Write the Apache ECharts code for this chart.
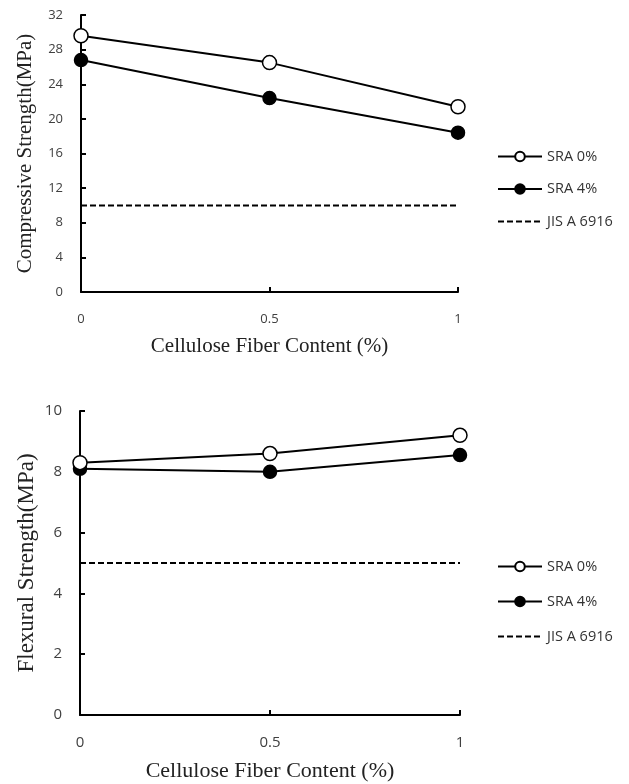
<!DOCTYPE html>
<html>
<head>
<meta charset="utf-8">
<script src="https://cdn.jsdelivr.net/npm/echarts@6/dist/echarts.min.js"></script>
<style>html,body{margin:0;padding:0;background:#fff}#c{width:629px;height:784px}</style>
</head>
<body>
<div id="c"></div>
<script>
const fiberContent = [0, 0.5, 1];
const xTicks = ['0', '0.5', '1'];
const compSRA0 = [29.6, 26.5, 21.4];
const compSRA4 = [26.8, 22.4, 18.4];
const compJIS = [10, 10, 10];
const flexSRA0 = [8.3, 8.6, 9.2];
const flexSRA4 = [8.1, 8.0, 8.55];
const flexJIS = [5, 5, 5];
const seriesNames = ['SRA 0%', 'SRA 4%', 'JIS A 6916'];

const pair = arr => fiberContent.map((x, i) => [x, arr[i]]);
const serif = 'Liberation Serif';
const sans = 'Open Sans';

function xAxis(grid, labelSize, margin, gap, nameSize) {
  return {
    type: 'value', gridIndex: grid, min: 0, max: 1, interval: 0.5,
    axisLine: {lineStyle: {color: '#000', width: 2}},
    axisTick: {inside: true, length: 5, lineStyle: {color: '#000', width: 2}},
    axisLabel: {margin: margin, fontFamily: sans, fontSize: labelSize, color: '#404040',
      formatter: v => xTicks[Math.round(v * 2)]},
    splitLine: {show: false},
    name: 'Cellulose Fiber Content (%)', nameLocation: 'middle', nameGap: gap,
    nameMoveOverlap: false,
    nameTextStyle: {fontFamily: serif, fontSize: nameSize, color: '#222'}
  };
}
function yAxis(grid, max, interval, name, labelSize, gap, nameSize) {
  return {
    type: 'value', gridIndex: grid, min: 0, max: max, interval: interval,
    axisLine: {show: true, lineStyle: {color: '#000', width: 2}},
    axisTick: {show: true, inside: true, length: 5, lineStyle: {color: '#000', width: 2}},
    axisLabel: {margin: 18, fontFamily: sans, fontSize: labelSize, color: '#404040'},
    splitLine: {show: false},
    name: name, nameLocation: 'middle', nameGap: gap,
    nameMoveOverlap: false,
    nameTextStyle: {fontFamily: serif, fontSize: nameSize, color: '#222'}
  };
}
function lineSeries(name, data, axis, filled, size) {
  return {
    name: name, type: 'line', xAxisIndex: axis, yAxisIndex: axis, data: pair(data),
    symbol: 'circle', symbolSize: size,
    lineStyle: {color: '#000', width: 2},
    itemStyle: {color: filled ? '#000' : '#fff', borderColor: '#000', borderWidth: 1.5},
    z: filled ? 3 : 4
  };
}
function jisSeries(data, axis) {
  return {
    name: seriesNames[2], type: 'line', xAxisIndex: axis, yAxisIndex: axis, data: pair(data),
    symbol: 'none', lineStyle: {color: '#000', width: 2, type: [6, 3]},
    itemStyle: {color: '#000'}
  };
}
function legend(top, gap) {
  return {
    orient: 'vertical', left: 492, top: top, itemWidth: 44, itemHeight: 12, itemGap: gap,
    data: [
      {name: seriesNames[0]},
      {name: seriesNames[1]},
      {name: seriesNames[2], itemStyle: {opacity: 0}}
    ],
    selectedMode: false,
    textStyle: {fontFamily: sans, fontSize: 14.5, color: '#333'}
  };
}

const chart = echarts.init(document.getElementById('c'));
chart.setOption({
  animation: false,
  backgroundColor: '#fff',
  grid: [
    {left: 81, top: 15, width: 377, height: 277},
    {left: 80, top: 411, width: 380, height: 304}
  ],
  xAxis: [xAxis(0, 13, 21, 44, 21), xAxis(1, 15, 20, 45, 22)],
  yAxis: [
    yAxis(0, 32, 4, 'Compressive Strength(MPa)', 13, 45, 21),
    yAxis(1, 10, 2, 'Flexural Strength(MPa)', 15, 42, 23)
  ],
  legend: [legend(144, 17.5), legend(554, 20)],
  series: [
    lineSeries(seriesNames[0], compSRA0, 0, false, 14),
    lineSeries(seriesNames[1], compSRA4, 0, true, 13),
    jisSeries(compJIS, 0),
    lineSeries(seriesNames[0], flexSRA0, 1, false, 14),
    lineSeries(seriesNames[1], flexSRA4, 1, true, 13),
    jisSeries(flexJIS, 1)
  ]
});
</script>
</body>
</html>
